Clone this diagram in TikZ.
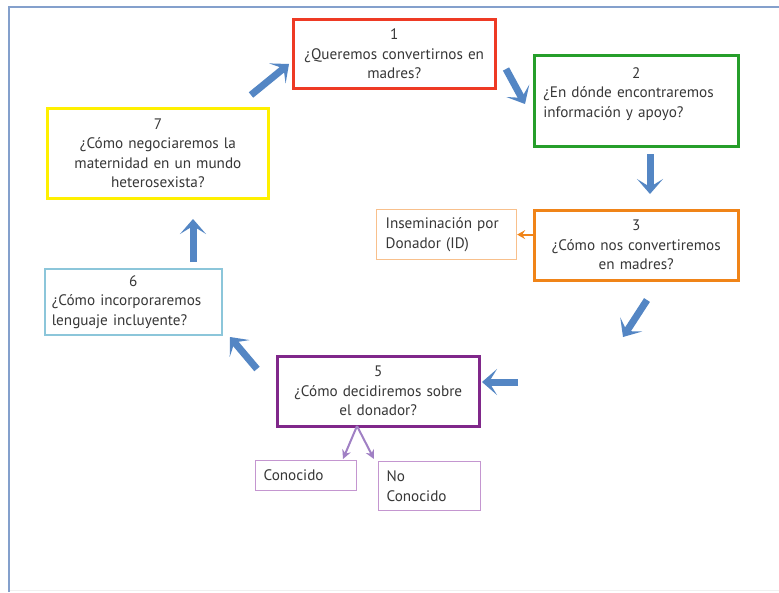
\documentclass[tikz,border=0pt]{standalone}
\usepackage{fontspec}
\usetikzlibrary{arrows.meta}
\newfontfamily\qfont{PT Sans}
\definecolor{txtgray}{RGB}{55,55,55}
\definecolor{cred}{RGB}{238,58,36}
\definecolor{cgreen}{RGB}{38,158,42}
\definecolor{corange}{RGB}{240,132,24}
\definecolor{cpurple}{RGB}{128,40,138}
\definecolor{cyellow}{RGB}{255,240,0}
\definecolor{clblue}{RGB}{140,198,218}
\definecolor{clorange}{RGB}{248,192,140}
\definecolor{clpurple}{RGB}{196,150,208}
\definecolor{cparrow}{RGB}{160,128,196}
\definecolor{cblue}{RGB}{84,134,196}
\definecolor{cframe}{RGB}{132,160,204}
\tikzset{
  qbox/.style={draw, rectangle, anchor=north west, inner sep=0pt, align=center,
    font=\qfont\fontsize{15.2}{19.5}\selectfont, text=txtgray},
  lbox/.style={qbox, align=left},
  bigarrow/.style={draw=cblue, line width=7pt, -{Stealth[length=15pt,width=26pt,inset=8pt]}},
  parrow/.style={draw=cparrow, line width=2pt, -{Stealth[length=9pt,width=9pt,inset=3pt]}},
}
\begin{document}
\begin{tikzpicture}[x=1pt,y=-1pt]
\useasboundingbox (0,0) rectangle (779,592);
\fill[white] (0,0) rectangle (779,592);
% frame
\draw[cframe, line width=2pt] (9,592) -- (9,7) -- (779,7);
\draw[black!6, line width=1pt] (10,590) -- (779,590);
% boxes
\node[qbox, draw=cred, line width=2.5pt, minimum width=202pt, minimum height=69pt, text width=192pt] (b1) at (292,18)
  {1\\¿Queremos convertirnos en\\madres?};
\node[lbox, draw=cgreen, line width=2.5pt, minimum width=204pt, minimum height=91pt, text width=186pt] (b2) at (533,54)
  {\makebox[\linewidth]{2}\\¿En dónde encontraremos\\información y apoyo?\\[-3pt]\mbox{}};
\node[qbox, draw=corange, line width=2.5pt, minimum width=204pt, minimum height=70pt, text width=194pt] (b3) at (533,209)
  {3\\¿Cómo nos convertiremos\\en madres?};
\node[lbox, draw=clorange, line width=1.2pt, minimum width=140pt, minimum height=50pt, text width=122pt] (id) at (376,209)
  {Inseminación por\\Donador (ID)};
\node[qbox, draw=cpurple, line width=2.5pt, minimum width=202pt, minimum height=70pt, text width=192pt] (b5) at (276,355)
  {5\\¿Cómo decidiremos sobre\\el donador?};
\node[lbox, draw=clpurple, line width=1.2pt, minimum width=101pt, minimum height=30pt, text width=85pt] (kn) at (255,460)
  {Conocido};
\node[lbox, draw=clpurple, line width=1.2pt, minimum width=102pt, minimum height=49pt, text width=86pt] (nk) at (378,461)
  {No\\Conocido};
\node[lbox, draw=clblue, line width=1.6pt, minimum width=177pt, minimum height=66pt, text width=163pt] (b6) at (44,268)
  {\makebox[\linewidth]{6}\\¿Cómo incorporaremos\\lenguaje incluyente?};
\node[qbox, draw=cyellow, line width=2.8pt, minimum width=221pt, minimum height=90pt, text width=207pt] (b7) at (46,107)
  {7\\¿Cómo negociaremos la\\maternidad en un mundo\\heterosexista?};
% arrow end points
\coordinate (a71s) at (251,95);  \coordinate (a71e) at (289,64);
\coordinate (a12s) at (506,69);  \coordinate (a12e) at (525,104);
\coordinate (a23s) at (650,154); \coordinate (a23e) at (650,194);
\coordinate (a35s) at (647,300); \coordinate (a35e) at (623,337);
\coordinate (a5s) at (518,382);  \coordinate (a5e) at (482,382);
\coordinate (a56s) at (257,369); \coordinate (a56e) at (230,337);
\coordinate (a67s) at (193,262); \coordinate (a67e) at (193,219);
\coordinate (p5) at (357,426);
\coordinate (pk) at (343,459);
\coordinate (pn) at (374,459);
% big arrows
\draw[bigarrow] (a71s) -- (a71e);
\draw[bigarrow] (a12s) -- (a12e);
\draw[bigarrow] (a23s) -- (a23e);
\draw[bigarrow] (a35s) -- (a35e);
\draw[bigarrow] (a5s) -- (a5e);
\draw[bigarrow] (a56s) -- (a56e);
\draw[bigarrow] (a67s) -- (a67e);
% small arrows
\draw[corange, line width=2pt, -{Stealth[length=8pt,width=9pt,inset=3pt]}] (b3.west |- id.east) -- (id.east);
\draw[parrow] (p5) -- (pk);
\draw[parrow] (p5) -- (pn);
\end{tikzpicture}
\end{document}
